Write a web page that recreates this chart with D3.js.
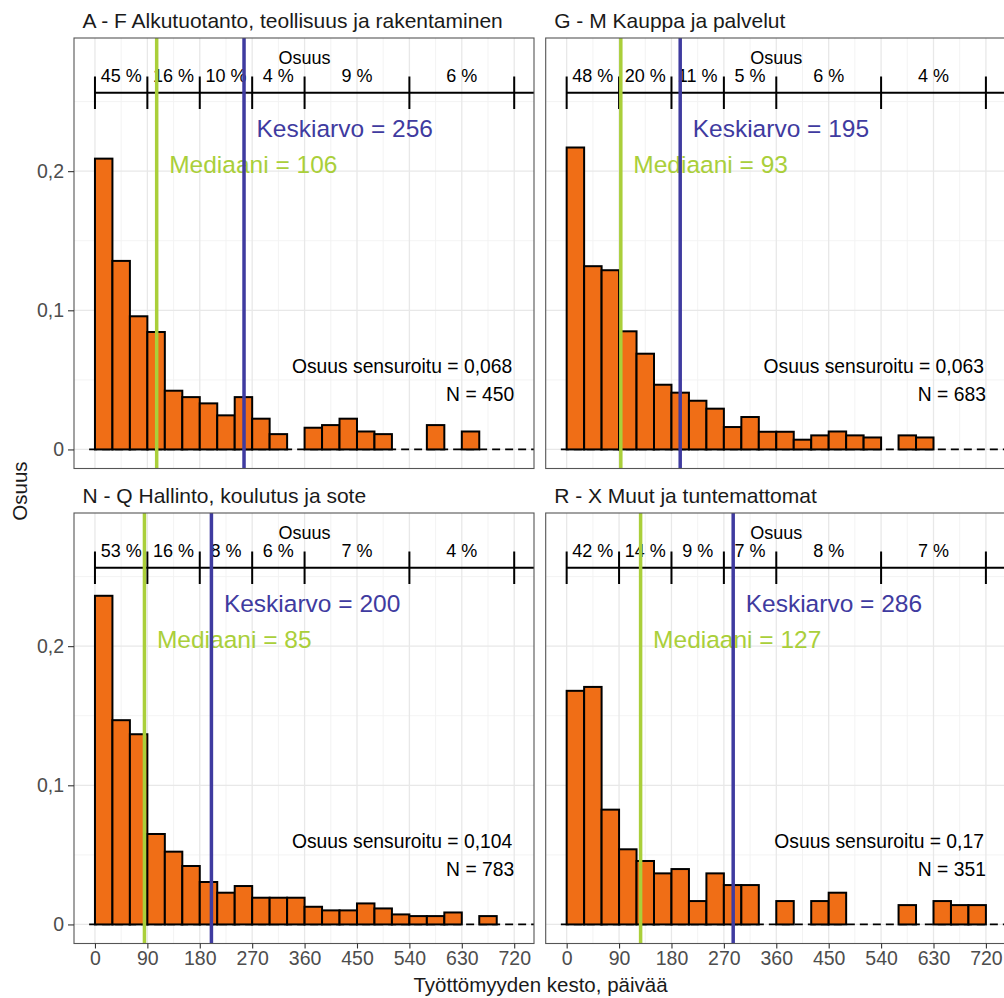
<!DOCTYPE html>
<html><head><meta charset="utf-8">
<script src="https://cdn.jsdelivr.net/npm/d3@7"></script>
<style>body{margin:0;background:#fff} svg{display:block;font-family:"Liberation Sans",Arial,sans-serif}</style>
</head><body>
<svg id="chart" width="1004" height="998"></svg>
<script>
// ---------- data ----------
const binStarts = [0,30,60,90,120,150,180,210,240,270,300,330,360,390,420,450,480,510,540,570,600,630,660,690];
const binWidth = 30;
const panelTitles = ["A - F Alkutuotanto, teollisuus ja rakentaminen","G - M Kauppa ja palvelut","N - Q Hallinto, koulutus ja sote","R - X Muut ja tuntemattomat"];
const valuesAF = [0.209,0.1355,0.0957,0.0844,0.0422,0.0376,0.0331,0.0245,0.0376,0.0221,0.011,null,0.0156,0.0175,0.0221,0.0129,0.011,null,null,0.0175,null,0.0129,null,null];
const valuesGM = [0.217,0.1317,0.1288,0.0849,0.0688,0.0465,0.0408,0.035,0.0293,0.0161,0.0233,0.0127,0.0127,0.007,0.0101,0.0129,0.0101,0.0086,null,0.0101,0.0086,null,null,null];
const valuesNQ = [0.2362,0.1468,0.1367,0.065,0.0523,0.042,0.0305,0.0228,0.0276,0.0192,0.0192,0.0192,0.0127,0.0101,0.0101,0.0151,0.0115,0.0072,0.006,0.006,0.0086,null,0.006,null];
const valuesRX = [0.1679,0.1707,0.0825,0.054,0.0456,0.0367,0.0398,0.0168,0.0367,0.0283,0.0283,null,0.0168,null,0.0168,0.0228,null,null,null,0.0139,null,0.0168,0.0139,0.0139];
const panelValues = [valuesAF, valuesGM, valuesNQ, valuesRX];
const shareBreaks = [0,90,180,270,360,540,720];
const shareLabels = [["45 %","16 %","10 %","4 %","9 %","6 %"],["48 %","20 %","11 %","5 %","6 %","4 %"],["53 %","16 %","8 %","6 %","7 %","4 %"],["42 %","14 %","9 %","7 %","8 %","7 %"]];
const means = [256,195,200,286];
const medians = [106,93,85,127];
const censored = ["0,068","0,063","0,104","0,17"];
const counts = [450,683,783,351];
const xTicks = [0,90,180,270,360,450,540,630,720];
const yTicks = [0,0.1,0.2];
const xTitle = "Työttömyyden kesto, päivää";
const yTitle = "Osuus";

// ---------- layout ----------
const colX = [74, 545.7], panelW = 460;
const rowY = [38, 513], panelH = 430.5;
const xDomain = [-36, 754], yDomain = [-0.0137, 0.2957];
const barFill = "#F06E16", meanCol = "#3F3BA0", medCol = "#AACF3A";
const svg = d3.select("#chart");
const loc = d3.formatLocale({decimal:",",thousands:" ",grouping:[3],currency:["","€"]});
const fmtY = d => d === 0 ? "0" : loc.format(".1f")(d);

panelValues.forEach((vals, i) => {
  const col = i % 2, row = Math.floor(i / 2);
  const px = colX[col], py = rowY[row];
  const x = d3.scaleLinear().domain(xDomain).range([px, px + panelW]);
  const y = d3.scaleLinear().domain(yDomain).range([py + panelH, py]);
  const g = svg.append("g");
  const cid = "clip" + i;
  svg.append("clipPath").attr("id", cid).append("rect").attr("x", px).attr("y", py).attr("width", panelW).attr("height", panelH);
  const pg = g.append("g").attr("clip-path", `url(#${cid})`);

  // minor grid
  const xMinor = xTicks.slice(0, -1).map(t => t + 45);
  const yMinor = [0.05, 0.15, 0.25];
  pg.selectAll(".xm").data(xMinor).join("line").attr("x1", d => x(d)).attr("x2", d => x(d)).attr("y1", py).attr("y2", py + panelH).attr("stroke", "#f2f2f2").attr("stroke-width", 0.9);
  pg.selectAll(".ym").data(yMinor).join("line").attr("y1", d => y(d)).attr("y2", d => y(d)).attr("x1", px).attr("x2", px + panelW).attr("stroke", "#f2f2f2").attr("stroke-width", 0.9);
  // major grid
  pg.selectAll(".xM").data(xTicks).join("line").attr("x1", d => x(d)).attr("x2", d => x(d)).attr("y1", py).attr("y2", py + panelH).attr("stroke", "#e8e8e8").attr("stroke-width", 1.3);
  pg.selectAll(".yM").data(yTicks).join("line").attr("y1", d => y(d)).attr("y2", d => y(d)).attr("x1", px).attr("x2", px + panelW).attr("stroke", "#e8e8e8").attr("stroke-width", 1.3);

  // dashed zero line
  pg.append("line").attr("x1", x(-10)).attr("x2", px + panelW).attr("y1", y(0)).attr("y2", y(0))
    .attr("stroke", "#000").attr("stroke-width", 1.8).attr("stroke-dasharray", "8,5");

  // bars
  const bars = binStarts.map((b, k) => ({b, v: vals[k]})).filter(d => d.v != null);
  pg.selectAll(".bar").data(bars).join("rect")
    .attr("x", d => x(d.b)).attr("width", d => x(d.b + binWidth) - x(d.b))
    .attr("y", d => y(d.v)).attr("height", d => y(0) - y(d.v))
    .attr("fill", barFill).attr("stroke", "#000").attr("stroke-width", 2);

  // top "Osuus" axis
  pg.append("line").attr("x1", x(0)).attr("x2", px + panelW).attr("y1", y(0.2563)).attr("y2", y(0.2563)).attr("stroke", "#000").attr("stroke-width", 2);
  pg.selectAll(".stk").data(shareBreaks).join("line").attr("x1", d => x(d)).attr("x2", d => x(d))
    .attr("y1", y(0.2446)).attr("y2", y(0.268)).attr("stroke", "#000").attr("stroke-width", 2);
  const mids = shareBreaks.slice(0, -1).map((b, k) => (b + shareBreaks[k + 1]) / 2);
  pg.selectAll(".slab").data(mids).join("text").attr("x", d => x(d)).attr("y", y(0.2643))
    .attr("text-anchor", "middle").attr("font-size", 18).attr("fill", "#000").text((d, k) => shareLabels[i][k]);
  pg.append("text").attr("x", x(360)).attr("y", y(0.2768)).attr("text-anchor", "middle").attr("font-size", 18).text("Osuus");

  // mean / median labels
  pg.append("text").attr("x", x(means[i]) + 12.5).attr("y", y(0.2245)).attr("font-size", 24.5).attr("fill", meanCol).text(`Keskiarvo = ${means[i]}`);
  pg.append("text").attr("x", x(medians[i]) + 12.5).attr("y", y(0.199)).attr("font-size", 24.5).attr("fill", medCol).text(`Mediaani = ${medians[i]}`);

  // annotations
  pg.append("text").attr("x", x(720) - 2).attr("y", y(0.0549)).attr("text-anchor", "end").attr("font-size", 19.3).text(`Osuus sensuroitu = ${censored[i]}`);
  pg.append("text").attr("x", x(720)).attr("y", y(0.0348)).attr("text-anchor", "end").attr("font-size", 19.3).text(`N = ${counts[i]}`);

  // vertical lines
  pg.append("line").attr("x1", x(medians[i])).attr("x2", x(medians[i])).attr("y1", py).attr("y2", py + panelH).attr("stroke", medCol).attr("stroke-width", 3.5);
  pg.append("line").attr("x1", x(means[i])).attr("x2", x(means[i])).attr("y1", py).attr("y2", py + panelH).attr("stroke", meanCol).attr("stroke-width", 3.5);

  // border
  g.append("rect").attr("x", px).attr("y", py).attr("width", panelW).attr("height", panelH).attr("fill", "none").attr("stroke", "#555").attr("stroke-width", 1.1);

  // strip title
  g.append("text").attr("x", px + 8.5).attr("y", py - 10).attr("font-size", 21).attr("fill", "#1a1a1a").text(panelTitles[i]);

  // axes
  if (col === 0) {
    const ax = g.append("g").attr("transform", `translate(${px},0)`).call(d3.axisLeft(y).tickValues(yTicks).tickFormat(fmtY).tickSize(6).tickPadding(4));
    ax.select(".domain").remove();
    ax.selectAll("line").attr("stroke", "#333").attr("stroke-width", 1.1);
    ax.selectAll("text").attr("fill", "#4d4d4d").attr("font-size", 19.5).attr("font-family", "Liberation Sans, Arial, sans-serif");
  }
  if (row === 1) {
    const ax = g.append("g").attr("transform", `translate(0,${py + panelH})`).call(d3.axisBottom(x).tickValues(xTicks).tickFormat(d3.format("d")).tickSize(5).tickPadding(3));
    ax.select(".domain").remove();
    ax.selectAll("line").attr("stroke", "#333").attr("stroke-width", 1.1);
    ax.selectAll("text").attr("fill", "#4d4d4d").attr("font-size", 19.5).attr("font-family", "Liberation Sans, Arial, sans-serif");
  }
});

svg.append("text").attr("x", 540.5).attr("y", 992).attr("text-anchor", "middle").attr("font-size", 20.5).attr("fill", "#1a1a1a").text(xTitle);
svg.append("text").attr("transform", "translate(27,491) rotate(-90)").attr("text-anchor", "middle").attr("font-size", 20.5).attr("fill", "#1a1a1a").text(yTitle);
</script>
</body></html>
